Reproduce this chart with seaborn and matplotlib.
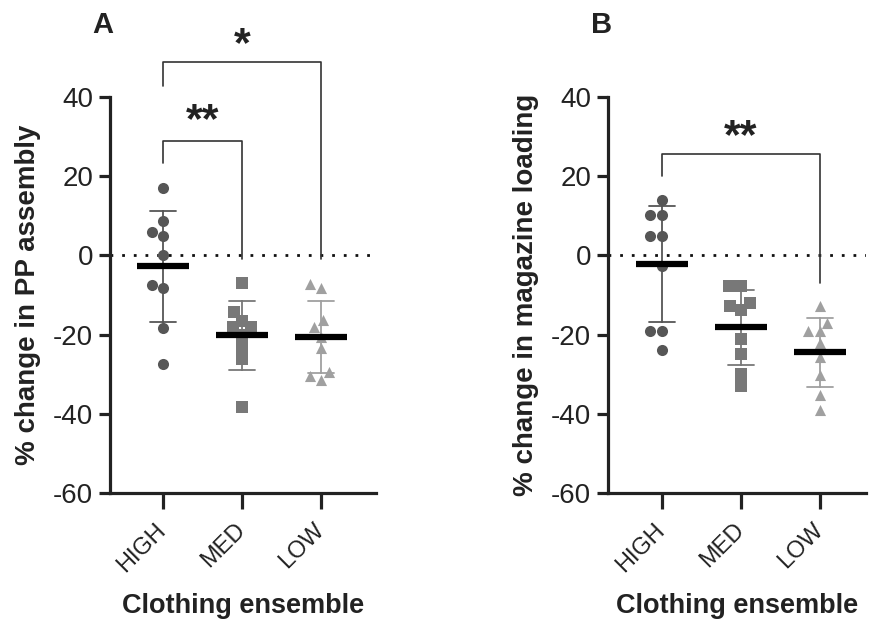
"""
Two-panel scatter of % change by clothing ensemble (mean +/- SD).
"""

import matplotlib
matplotlib.use("Agg")
import numpy as np
import pandas as pd
import matplotlib.pyplot as plt
import matplotlib.transforms as mtransforms
import seaborn as sns

groups = ["HIGH", "MED", "LOW"]
colors = ["#565656", "#787878", "#a0a0a0"]
markers = ["o", "s", "^"]

# Panel A: % change in PP assembly
pp_high = [17.0, 8.8, 5.9, 4.8, 0.0, -7.4, -8.3, -18.3, -27.5]
pp_med = [-7.0, -14.4, -16.5, -18.2, -18.2, -20.0, -23.2, -26.2, -38.3]
pp_low = [-7.2, -8.2, -16.4, -18.2, -20.5, -23.5, -29.4, -30.4, -31.4]

# Panel B: % change in magazine loading
mag_high = [14.1, 10.1, 10.1, 5.0, 5.0, -2.8, -19.0, -19.0, -24.0]
mag_med = [-7.8, -7.8, -12.0, -12.9, -13.9, -21.0, -25.0, -29.9, -33.0]
mag_low = [-12.9, -17.0, -19.2, -19.2, -22.1, -25.7, -30.3, -35.2, -39.0]

y_ticks = [40, 20, 0, -20, -40, -60]

FONT = ["Liberation Sans", "DejaVu Sans"]
INK = "#222222"


def make_frame(high, med, low):
    rows = []
    for g, vals in zip(groups, [high, med, low]):
        rows += [{"group": g, "value": v} for v in vals]
    return pd.DataFrame(rows)


def bracket(ax, x0, x1, top, left_end, right_end, label, label_x, label_y):
    ax.plot([x0, x0, x1, x1], [left_end, top, top, right_end],
            color="#333333", lw=1.2, clip_on=False, zorder=6)
    ax.text(label_x, label_y, label, ha="center", va="center",
            fontsize=31, fontweight="bold", color=INK,
            family=FONT, clip_on=False)


def draw_panel(ax, df, ylabel, xlim):
    for g, c, m in zip(groups, colors, markers):
        sns.swarmplot(data=df[df["group"] == g], x="group", y="value",
                      order=groups, color=c, marker=m, size=8,
                      linewidth=0, ax=ax, zorder=3)

    # SD error bars
    sns.pointplot(data=df, x="group", y="value", hue="group", order=groups,
                  hue_order=groups, palette=colors, errorbar="sd",
                  capsize=0.33, linestyle="none", markersize=0,
                  err_kws={"linewidth": 1.3, "zorder": 4},
                  legend=False, ax=ax)
    # mean bars
    sns.pointplot(data=df, x="group", y="value", order=groups,
                  errorbar=None, color="black", marker="_", markersize=38,
                  markeredgewidth=4.5, linestyle="none", ax=ax, zorder=5)

    ax.axhline(0, color="#111111", lw=2.0, linestyle=(0, (1, 3.2)), zorder=2)

    ax.set_ylim(-60, 40)
    ax.set_xlim(*xlim)
    ax.set_yticks(y_ticks)
    ax.set_yticklabels([str(t) for t in y_ticks], family=FONT, fontsize=20,
                       color=INK)
    ax.set_xticks(range(len(groups)))
    ax.set_xticklabels(groups, rotation=45, ha="right", va="center",
                       rotation_mode="anchor", family=FONT, fontsize=17,
                       color=INK)
    shift = mtransforms.ScaledTranslation(6 / 100, 0, ax.figure.dpi_scale_trans)
    for lbl in ax.get_xticklabels():
        lbl.set_transform(lbl.get_transform() + shift)

    ax.set_ylabel(ylabel, family=FONT, fontsize=20, fontweight="bold",
                  color=INK, labelpad=8.5)
    ax.set_xlabel("Clothing ensemble", family=FONT, fontsize=19.5,
                  fontweight="bold", color=INK, labelpad=12)

    sns.despine(ax=ax)
    for side in ["left", "bottom"]:
        ax.spines[side].set_linewidth(2.3)
        ax.spines[side].set_color(INK)
    ax.tick_params(axis="both", which="major", bottom=True, left=True,
                   width=2.3, color=INK)
    ax.tick_params(axis="y", length=8, pad=4)
    ax.tick_params(axis="x", length=11.5, pad=13)
    ax.grid(False)


sns.set_theme(style="white")

fig = plt.figure(figsize=(8.71, 6.21), dpi=100)
ax_a = fig.add_axes([110 / 871, 128 / 621, 266 / 871, 396 / 621])
ax_b = fig.add_axes([608 / 871, 128 / 621, 258 / 871, 396 / 621])

draw_panel(ax_a, make_frame(pp_high, pp_med, pp_low),
           "% change in PP assembly", (-0.67, 2.70))
draw_panel(ax_b, make_frame(mag_high, mag_med, mag_low),
           "% change in magazine loading", (-0.68, 2.58))

# significance brackets
bracket(ax_a, 0, 1, 29.0, 23.4, -1.0, "**", 0.5, 34.0)
bracket(ax_a, 0, 2, 48.9, 42.8, -1.0, "*", 1.0, 53.0)
bracket(ax_b, 0, 2, 25.7, 20.0, -7.0, "**", 1.0, 30.0)

fig.text(103 / 871, 1 - 25 / 621, "A", ha="center", va="center",
         fontsize=21, fontweight="bold", family=FONT, color=INK)
fig.text(602 / 871, 1 - 25 / 621, "B", ha="center", va="center",
         fontsize=21, fontweight="bold", family=FONT, color=INK)

fig.savefig("out.png", dpi=100)
plt.close(fig)
